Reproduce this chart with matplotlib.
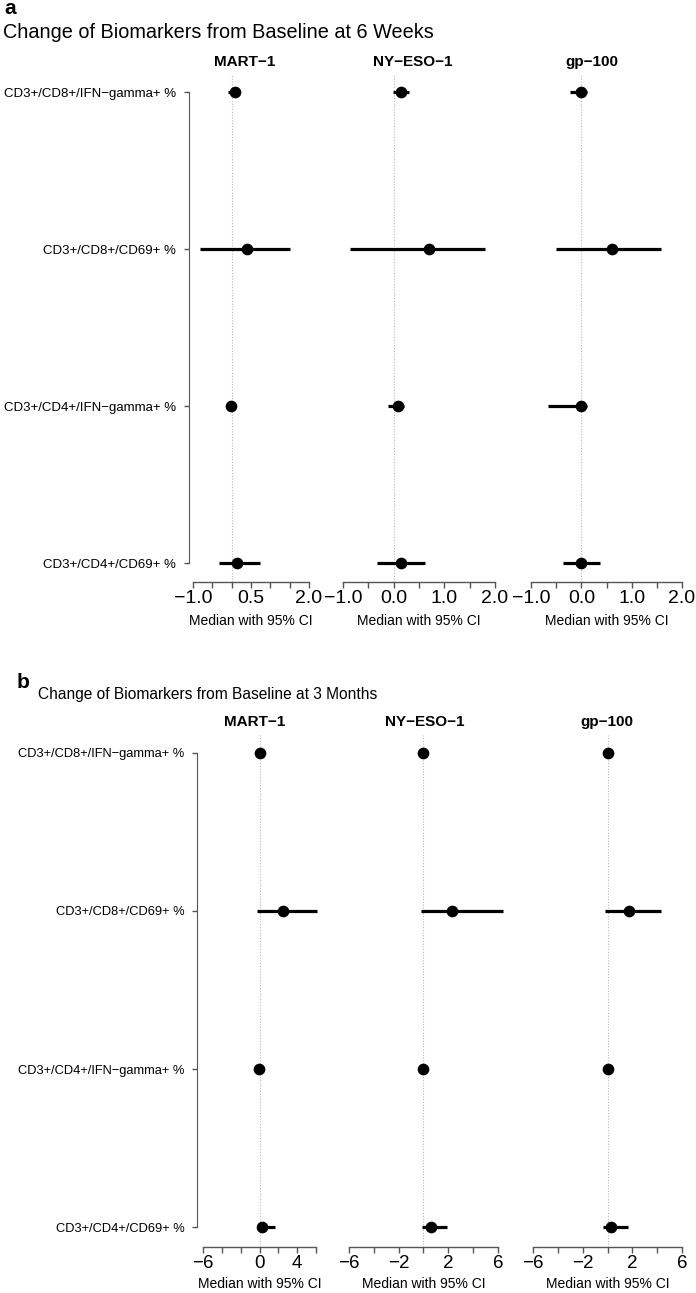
import matplotlib
matplotlib.use("Agg")
import matplotlib.pyplot as plt

W, H = 696, 1293
plt.rcParams['font.family'] = ['Liberation Sans', 'DejaVu Sans']

### Data
rows = ["CD3+/CD8+/IFN\u2212gamma+ %", "CD3+/CD8+/CD69+ %",
        "CD3+/CD4+/IFN\u2212gamma+ %", "CD3+/CD4+/CD69+ %"]
antigens = ["MART\u22121", "NY\u2212ESO\u22121", "gp\u2212100"]

# 6 weeks (rows top -> bottom)
wk6_mart_med = [0.08, 0.40, -0.01, 0.15]
wk6_mart_lo = [-0.10, -0.81, -0.04, -0.33]
wk6_mart_hi = [0.12, 1.52, 0.03, 0.72]
wk6_nyeso_med = [0.15, 0.70, 0.09, 0.15]
wk6_nyeso_lo = [-0.02, -0.86, -0.12, -0.32]
wk6_nyeso_hi = [0.31, 1.81, 0.21, 0.62]
wk6_gp_med = [0.0, 0.60, 0.0, 0.0]
wk6_gp_lo = [-0.22, -0.51, -0.67, -0.37]
wk6_gp_hi = [0.12, 1.58, 0.11, 0.37]

# 3 months
m3_mart_med = [0.0, 2.46, -0.08, 0.30]
m3_mart_lo = [0.0, -0.30, -0.08, 0.0]
m3_mart_hi = [0.0, 6.14, -0.08, 1.60]
m3_nyeso_med = [0.0, 2.27, 0.0, 0.58]
m3_nyeso_lo = [0.0, -0.23, 0.0, -0.12]
m3_nyeso_hi = [0.0, 6.43, 0.0, 1.87]
m3_gp_med = [0.0, 1.73, 0.0, 0.28]
m3_gp_lo = [0.0, -0.18, 0.0, -0.39]
m3_gp_hi = [0.20, 4.30, 0.0, 1.68]

wk6_ticks = [-1.0, -0.5, 0.0, 0.5, 1.0, 1.5, 2.0]
wk6_labels_first = ["\u22121.0", "", "", "0.5", "", "", "2.0"]
wk6_labels = ["\u22121.0", "", "0.0", "", "1.0", "", "2.0"]
m3_ticks = [-6, -4, -2, 0, 2, 4, 6]
m3_labels_first = ["\u22126", "", "", "0", "", "4", ""]
m3_labels = ["\u22126", "", "\u22122", "", "2", "", "6"]

fig = plt.figure(figsize=(W / 100, H / 100), dpi=100)


def px_axes(l, t, r, b):
    return fig.add_axes([l / W, 1 - b / H, (r - l) / W, (b - t) / H])


def ftext(x, y, s, **kw):
    fig.text(x / W, 1 - y / H, s, **kw)


def panel(xs, top, bottom, row1, row4, data, ticks, labs_first, labs,
          lab_size, tick_size, spine_out, headers_x, header_y, xlabel_y):
    unit = (row4 - row1) / 3.0
    ylo = 1 - (bottom - row4) / unit
    yhi = 4 + (row1 - top) / unit
    ypos = [4, 3, 2, 1]
    for i, ((l, r), (med, lo, hi)) in enumerate(zip(xs, data)):
        ax = px_axes(l, top, r, bottom)
        ax.set_xlim(ticks[0], ticks[-1])
        ax.set_ylim(ylo, yhi)
        ax.axvline(0, color='#b8b8b8', ls=(0, (1, 1.5)), lw=0.8, zorder=1)
        ax.hlines(ypos, lo, hi, color='black', lw=2.3, zorder=2, clip_on=False)
        ax.plot(med, ypos, 'o', color='black', ms=7.4, zorder=3, clip_on=False)
        for s in ['top', 'right']:
            ax.spines[s].set_visible(False)
        ax.spines['bottom'].set_color('#555555')
        ax.spines['bottom'].set_linewidth(1.0)
        ax.set_xticks(ticks)
        ax.set_xticklabels(labs_first if i == 0 else labs)
        ax.tick_params(axis='x', direction='out', length=4.3, width=1.0,
                       color='#555555', pad=1.5, labelsize=tick_size)
        if i == 0:
            ax.spines['left'].set_position(('outward', spine_out))
            ax.spines['left'].set_bounds(1, 4)
            ax.spines['left'].set_color('#555555')
            ax.set_yticks(ypos)
            ax.set_yticklabels(rows, fontsize=lab_size)
            ax.tick_params(axis='y', direction='out', length=3.6, width=1.0,
                           color='#555555', pad=5.5)
        else:
            ax.spines['left'].set_visible(False)
            ax.set_yticks([])
        ax.patch.set_alpha(0)
        ftext(headers_x[i], header_y, antigens[i], fontsize=11, fontweight='bold',
              ha='center', va='center')
        ftext((l + r) / 2, xlabel_y, "Median with 95% CI", fontsize=10,
              ha='center', va='center')


# panel a
ftext(4, 9, "a", fontsize=15, fontweight='bold', ha='left', va='center')
ftext(3, 32, "Change of Biomarkers from Baseline at 6 Weeks", fontsize=14.3,
      ha='left', va='center')
panel([(193, 309), (343, 495), (531, 682)], 75, 582, 92.3, 563.3,
      [(wk6_mart_med, wk6_mart_lo, wk6_mart_hi),
       (wk6_nyeso_med, wk6_nyeso_lo, wk6_nyeso_hi),
       (wk6_gp_med, wk6_gp_lo, wk6_gp_hi)],
      wk6_ticks, wk6_labels_first, wk6_labels,
      9.5, 14, 2.9, [245, 413, 592], 62, 621)

# panel b
ftext(17, 682, "b", fontsize=15, fontweight='bold', ha='left', va='center')
ftext(38, 694, "Change of Biomarkers from Baseline at 3 Months", fontsize=11.2,
      ha='left', va='center')
panel([(203, 316), (349, 498), (533, 682)], 735, 1247.3, 752.7, 1227.3,
      [(m3_mart_med, m3_mart_lo, m3_mart_hi),
       (m3_nyeso_med, m3_nyeso_lo, m3_nyeso_hi),
       (m3_gp_med, m3_gp_lo, m3_gp_hi)],
      m3_ticks, m3_labels_first, m3_labels,
      9.3, 13.5, 4.3, [255, 425, 607], 722, 1284)

fig.savefig("out.png", dpi=100)
